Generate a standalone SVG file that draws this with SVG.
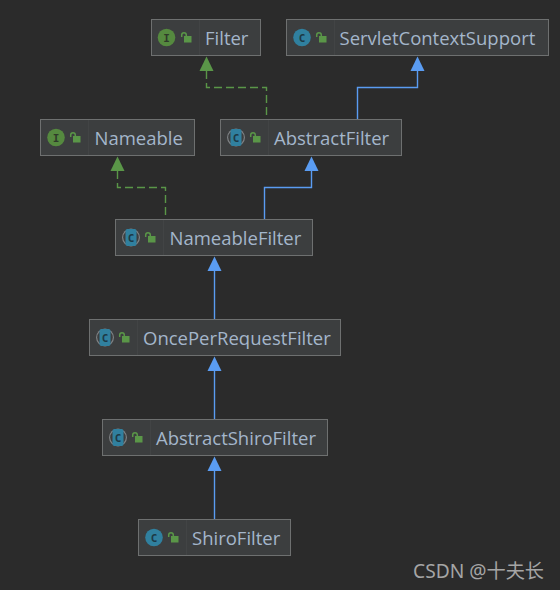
<svg xmlns="http://www.w3.org/2000/svg" width="560" height="590" viewBox="0 0 560 590">
<style>
.box{fill:#3c3e3f;stroke:#6e7070;stroke-width:1}
.sep{stroke:#424445;stroke-width:1}
.t{font-family:"Open Sans","DejaVu Sans",sans-serif;font-size:18.5px;fill:#a4b6cb}
.ic{font-family:"DejaVu Sans Mono",monospace;font-size:11px;font-weight:bold;text-anchor:middle}
.imp{fill:none;stroke:#5a9648;stroke-width:1.4;stroke-dasharray:8 4}
.ext{fill:none;stroke:#5a9cf2;stroke-width:1.4}
.lock{fill:#5a9648}
.sh{fill:none;stroke:#5a9648;stroke-width:1.5}
.wm{font-family:"Noto Sans","Noto Sans CJK SC",sans-serif;font-size:19.200px;fill:#a5a5a5}
</style>
<defs>
<g id="l"><rect class="lock" x="3" y="-1" width="7.500" height="6.500"/><path class="sh" d="M0.700 0V-2a2.300 2.300 0 0 1 4.600 0V-1"/></g>
<g id="ci"><circle cx="0" cy="0" r="8.800" fill="#55893f"/><text class="ic" y="4" fill="#2f3a2a">I</text></g>
<g id="cc"><circle cx="0" cy="0" r="8.800" fill="#30809f"/><text class="ic" y="4" fill="#1d3a48">C</text></g>
<g id="ca"><circle cx="0" cy="0" r="9" fill="#7f8285"/><circle cx="0" cy="0" r="7.800" fill="#3c3e3f"/><rect x="-5.500" y="-8.500" width="11" height="17" rx="2" fill="#30809f"/><text class="ic" y="4" fill="#1d3a48">C</text></g>
</defs>
<rect width="560" height="590" fill="#2b2b2b"/>
<g id="connectors">
<path class="imp" d="M206.500 71V87.500H266.500V119"/>
<path d="M206.500 56.500L199.500 71H213.500Z" fill="#5a9648"/>
<path class="ext" d="M357.500 119V87.500H417.500V70"/>
<path d="M417.500 56.500L410.500 71H424.500Z" fill="#5a9cf2"/>
<path class="imp" d="M117.500 171V187.500H165.500V219"/>
<path d="M117.500 156.500L110.500 171H124.500Z" fill="#5a9648"/>
<path class="ext" d="M264.500 219V187.500H311.500V170"/>
<path d="M311.500 156.500L304.500 171H318.500Z" fill="#5a9cf2"/>
<path class="ext" d="M214.500 319V270"/>
<path d="M214.500 256.500L207.500 271H221.500Z" fill="#5a9cf2"/>
<path class="ext" d="M214.500 419V370"/>
<path d="M214.500 356.500L207.500 371H221.500Z" fill="#5a9cf2"/>
<path class="ext" d="M214.500 519V470"/>
<path d="M214.500 456.500L207.500 471H221.500Z" fill="#5a9cf2"/>
</g>
<g id="filter"><rect class="box" x="151.500" y="19.500" width="109" height="36"/><path class="sep" d="M199.500 20V55"/><use href="#ci" x="166.500" y="37.500"/><use href="#l" x="181" y="37"/><text class="t" x="205" y="44.500">Filter</text></g>
<g id="servletcontextsupport"><rect class="box" x="286.500" y="19.500" width="262" height="36"/><path class="sep" d="M334.500 20V55"/><use href="#cc" x="302" y="37.500"/><use href="#l" x="316" y="37"/><text class="t" x="339.500" y="44.500">ServletContextSupport</text></g>
<g id="nameable"><rect class="box" x="40.500" y="119.500" width="154" height="36"/><path class="sep" d="M88.500 120V155"/><use href="#ci" x="56" y="137.500"/><use href="#l" x="70" y="137"/><text class="t" x="94.500" y="144.500">Nameable</text></g>
<g id="abstractfilter"><rect class="box" x="220.500" y="119.500" width="181" height="36"/><path class="sep" d="M268.500 120V155"/><use href="#ca" x="236" y="137.500"/><use href="#l" x="250" y="137"/><text class="t" x="274" y="144.500">AbstractFilter</text></g>
<g id="nameablefilter"><rect class="box" x="115.500" y="219.500" width="197" height="36"/><path class="sep" d="M163.500 220V255"/><use href="#ca" x="131" y="237.500"/><use href="#l" x="145" y="237"/><text class="t" x="169.500" y="244.500">NameableFilter</text></g>
<g id="onceperrequestfilter"><rect class="box" x="89.500" y="319.500" width="251" height="36"/><path class="sep" d="M137.500 320V355"/><use href="#ca" x="105" y="337.500"/><use href="#l" x="119" y="337"/><text class="t" x="143" y="344.500">OncePerRequestFilter</text></g>
<g id="abstractshirofilter"><rect class="box" x="102.500" y="419.500" width="225" height="36"/><path class="sep" d="M150.500 420V455"/><use href="#ca" x="118" y="437.500"/><use href="#l" x="132" y="437"/><text class="t" x="156" y="444.500">AbstractShiroFilter</text></g>
<g id="shirofilter"><rect class="box" x="138.500" y="519.500" width="152" height="36"/><path class="sep" d="M186.500 520V555"/><use href="#cc" x="154" y="537.500"/><use href="#l" x="168" y="537"/><text class="t" x="192" y="544.500">ShiroFilter</text></g>
<text class="wm" x="413" y="578">CSDN @十夫长</text>
</svg>
